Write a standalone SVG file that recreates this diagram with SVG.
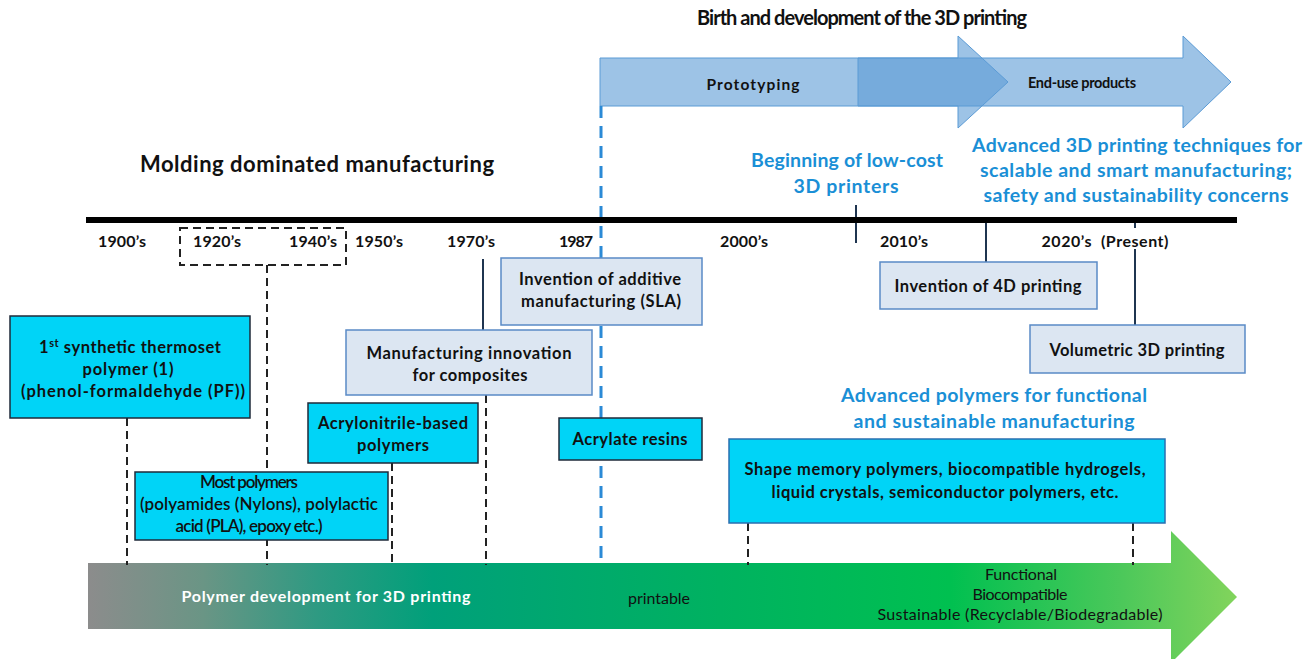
<svg xmlns="http://www.w3.org/2000/svg" width="1314" height="659" viewBox="0 0 1314 659">
<defs>
<linearGradient id="gbar" gradientUnits="userSpaceOnUse" x1="88" y1="0" x2="1237" y2="0">
<stop offset="0" stop-color="#8c8c8c"/>
<stop offset="0.1" stop-color="#6a9585"/>
<stop offset="0.2" stop-color="#2e9a82"/>
<stop offset="0.3" stop-color="#00a07a"/>
<stop offset="0.55" stop-color="#00b260"/>
<stop offset="0.75" stop-color="#00c050"/>
<stop offset="0.9" stop-color="#4cc85a"/>
<stop offset="1" stop-color="#82d45c"/>
</linearGradient>
</defs>
<style>
text{font-family:Lato,"Liberation Sans",sans-serif;font-weight:bold;fill:#111;text-anchor:middle}
.h{font-size:22px}
.blue{fill:#1a8fd6;font-size:19.5px}
.yr{font-size:16px}
.bx{font-size:16.5px}
.cy{fill:#00d4f7;stroke:#1f2a3a;stroke-width:1.5}
.lt{fill:#dce6f2;stroke:#5a8ac6;stroke-width:1.5}
.dash{stroke:#222;stroke-width:2;stroke-dasharray:8 5;fill:none}
.sol{stroke:#1f3550;stroke-width:2;fill:none}
.arr{fill:#5b9bd5;fill-opacity:0.6;stroke:#5b9bd5;stroke-width:1}
.nb{font-weight:normal;font-size:16px}
</style>
<rect width="1314" height="659" fill="#fff"/>

<g id="top-arrows">
<polygon class="arr" points="600,58 958,58 958,36 1008,82 958,128 958,106 600,106"/>
<polygon class="arr" points="858,58 1183,58 1183,36 1231,82 1183,128 1183,106 858,106"/>
<text x="753" y="90" font-size="15.5" textLength="93">Prototyping</text>
<text x="1082" y="88" font-size="14.5" textLength="108">End-use products</text>
</g>

<g id="headings">
<text x="862" y="25" font-size="20" textLength="330">Birth and development of the 3D printing</text>
<text class="h" x="317" y="172" textLength="354">Molding dominated manufacturing</text>
<text class="blue" x="847" y="167" textLength="192">Beginning of low-cost</text>
<text class="blue" x="846" y="193" textLength="105">3D printers</text>
<text class="blue" x="1137" y="152" textLength="330">Advanced 3D printing techniques for</text>
<text class="blue" x="1136" y="177" textLength="312">scalable and smart manufacturing;</text>
<text class="blue" x="1136" y="202" textLength="305">safety and sustainability concerns</text>
<text class="blue" x="994" y="402" textLength="306">Advanced polymers for functional</text>
<text class="blue" x="994" y="428" textLength="281">and sustainable manufacturing</text>
</g>

<g id="bottom-arrow">
<polygon fill="url(#gbar)" points="88,563 1171,563 1171,531 1237,597 1171,663 1171,629 88,629"/>
<text x="326" y="602" font-size="16" style="fill:#fff" textLength="289">Polymer development for 3D printing</text>
<text class="nb" x="659" y="604" textLength="62">printable</text>
<text class="nb" x="1021" y="580" textLength="72">Functional</text>
<text class="nb" x="1020" y="600" textLength="95">Biocompatible</text>
<text class="nb" x="1020" y="620" textLength="285">Sustainable (Recyclable/Biodegradable)</text>
</g>

<g id="connectors">
<line class="dash" x1="127" y1="418" x2="127" y2="565"/>
<line class="dash" x1="267" y1="265" x2="267" y2="565"/>
<line class="dash" x1="392" y1="463" x2="392" y2="565"/>
<line class="dash" x1="486" y1="395" x2="486" y2="565"/>
<line class="dash" x1="748" y1="523" x2="748" y2="565"/>
<line class="dash" x1="1133" y1="523" x2="1133" y2="565"/>
<rect class="dash" x="180" y="228" width="166" height="37"/>
<line x1="601" y1="106" x2="601" y2="565" stroke="#2b8ad6" stroke-width="3" stroke-dasharray="12 8"/>
<line class="sol" x1="483" y1="259" x2="483" y2="330"/>
<line class="sol" x1="856" y1="205" x2="856" y2="243"/>
<line class="sol" x1="986" y1="220" x2="986" y2="262"/>
<line class="sol" x1="1135" y1="220" x2="1135" y2="228"/>
<line class="sol" x1="1135" y1="249" x2="1135" y2="325"/>
</g>

<g id="timeline">
<line x1="86" y1="220" x2="1237" y2="220" stroke="#000" stroke-width="6"/>
<text class="yr" x="122" y="247" textLength="48">1900’s</text>
<text class="yr" x="217" y="247" textLength="48">1920’s</text>
<text class="yr" x="313" y="247" textLength="48">1940’s</text>
<text class="yr" x="379" y="247" textLength="48">1950’s</text>
<text class="yr" x="471" y="247" textLength="48">1970’s</text>
<text class="yr" x="576" y="247" textLength="34">1987</text>
<text class="yr" x="744" y="247" textLength="48">2000’s</text>
<text class="yr" x="904" y="247" textLength="48">2010’s</text>
<text class="yr" x="1105" y="247" textLength="127" xml:space="preserve">2020’s  (Present)</text>
</g>

<g id="n-pf">
<rect class="cy" x="10" y="316" width="240" height="102"/>
<text class="bx" x="130" y="353" textLength="182">1<tspan font-size="11" dy="-6">st</tspan><tspan dy="6"> synthetic thermoset</tspan></text>
<text class="bx" x="128" y="375" textLength="91">polymer (1)</text>
<text class="bx" x="133" y="397" textLength="224">(phenol-formaldehyde (PF))</text>
</g>

<g id="n-composites">
<rect class="lt" x="346" y="330" width="246" height="65"/>
<text class="bx" x="469" y="359" textLength="205">Manufacturing innovation</text>
<text class="bx" x="470" y="381" textLength="115">for composites</text>
</g>

<g id="n-sla">
<rect class="lt" x="501" y="258" width="201" height="67"/>
<text class="bx" x="600" y="285" textLength="162">Invention of additive</text>
<text class="bx" x="601" y="307" textLength="160">manufacturing (SLA)</text>
</g>

<g id="n-acrylonitrile">
<rect class="cy" x="308" y="403" width="170" height="60"/>
<text class="bx" x="393" y="429" textLength="150">Acrylonitrile-based</text>
<text class="bx" x="393" y="451" textLength="72">polymers</text>
</g>

<g id="n-most">
<rect class="cy" x="135" y="472" width="253" height="68"/>
<text x="249" y="488" font-size="17" style="font-weight:600" textLength="98">Most polymers</text>
<text x="259" y="510" font-size="17" style="font-weight:600" textLength="238">(polyamides (Nylons), polylactic</text>
<text x="249" y="532" font-size="17" style="font-weight:600" textLength="147">acid (PLA), epoxy etc.)</text>
</g>

<g id="n-acrylate">
<rect class="cy" x="559" y="418" width="143" height="42"/>
<text class="bx" x="630" y="445" textLength="115">Acrylate resins</text>
</g>

<g id="n-advanced">
<rect class="cy" x="729" y="439" width="436" height="84" style="stroke:#2a6fb0"/>
<text class="bx" x="945" y="475" textLength="401">Shape memory polymers, biocompatible hydrogels,</text>
<text class="bx" x="945" y="498" textLength="347">liquid crystals, semiconductor polymers, etc.</text>
</g>

<g id="n-4d">
<rect class="lt" x="880" y="262" width="217" height="47"/>
<text class="bx" x="988" y="292" textLength="187">Invention of 4D printing</text>
</g>

<g id="n-volumetric">
<rect class="lt" x="1030" y="325" width="215" height="48"/>
<text class="bx" x="1137" y="356" textLength="175">Volumetric 3D printing</text>
</g>
</svg>
